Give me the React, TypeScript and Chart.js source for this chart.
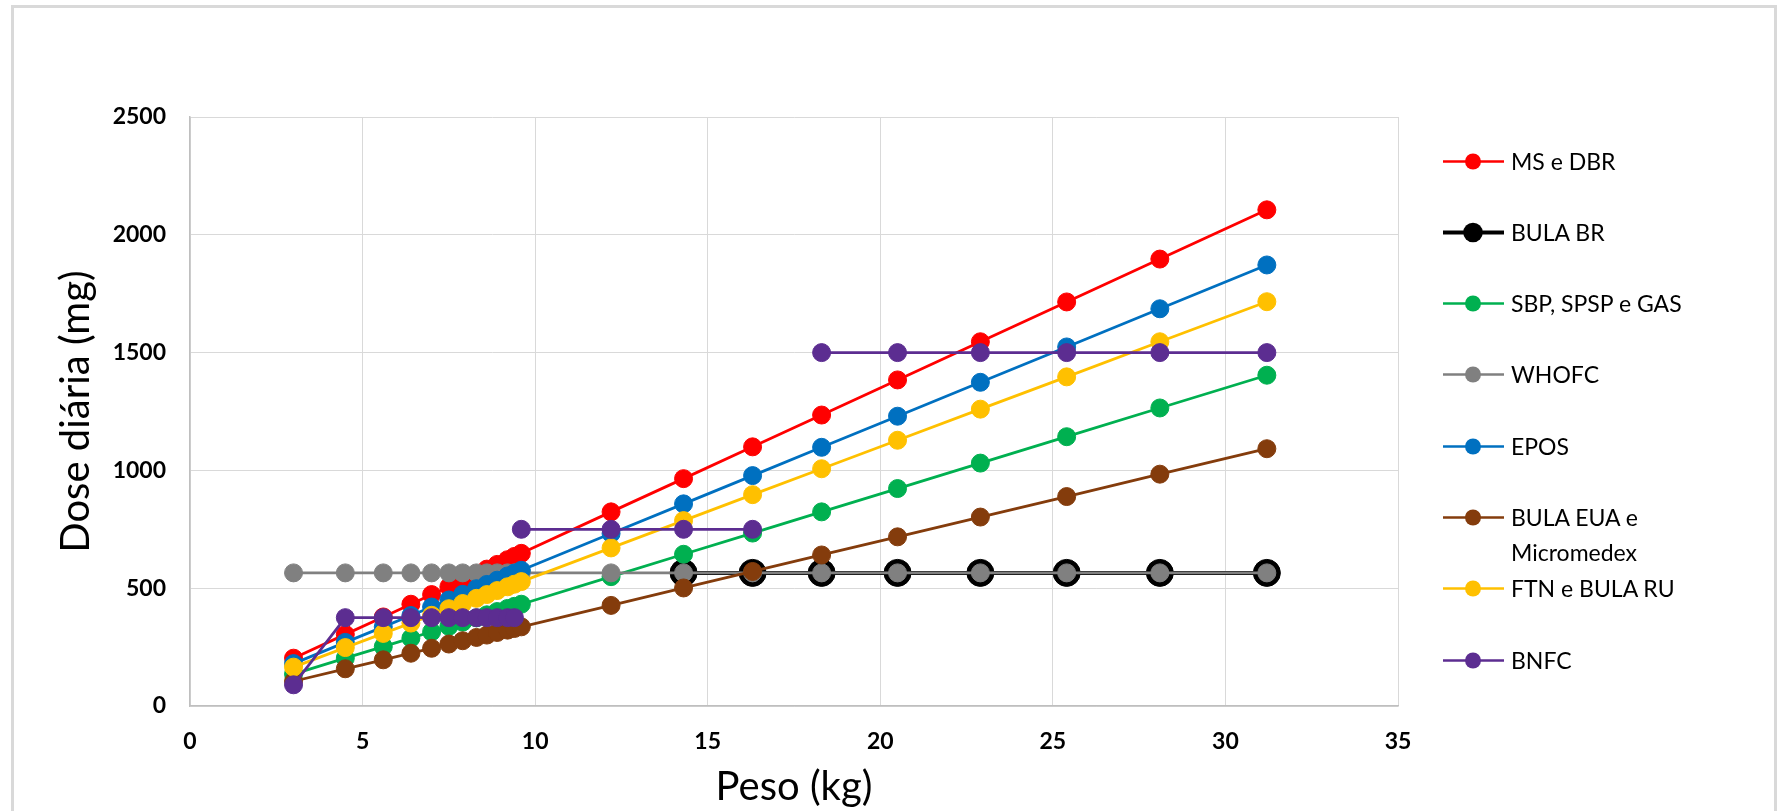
import React, { useEffect, useRef } from "react";
import { Chart, registerables } from "chart.js";

Chart.register(...registerables);

// ---------- data ----------
const WEIGHT_KG = [3, 4.5, 5.6, 6.4, 7.0, 7.5, 7.9, 8.3, 8.6, 8.9, 9.2, 9.4, 9.6, 12.2, 14.3, 16.3, 18.3, 20.5, 22.9, 25.4, 28.1, 31.2];

const MS_DBR = [203, 304, 378, 432, 473, 506, 533, 560, 581, 601, 621, 635, 648, 824, 965, 1100, 1235, 1384, 1546, 1715, 1897, 2106];
const SBP_SPSP_GAS = [135, 203, 252, 288, 315, 338, 356, 374, 387, 401, 414, 423, 432, 549, 644, 734, 824, 923, 1031, 1143, 1265, 1404];
const WHOFC = [565, 565, 565, 565, 565, 565, 565, 565, 565, 565, 565, 565, 565, 565, 565, 565, 565, 565, 565, 565, 565, 565];
const EPOS = [180, 270, 336, 384, 420, 450, 474, 498, 516, 534, 552, 564, 576, 732, 858, 978, 1098, 1230, 1374, 1524, 1686, 1872];
const BULA_EUA = [105, 158, 196, 224, 245, 263, 277, 291, 301, 312, 322, 329, 336, 427, 501, 571, 641, 718, 802, 889, 984, 1092];
const FTN_BULA_RU = [165, 248, 308, 352, 385, 413, 435, 457, 473, 490, 506, 517, 528, 671, 787, 897, 1007, 1128, 1260, 1397, 1546, 1716];

const BULA_BR_WEIGHT = [14.3, 16.3, 18.3, 20.5, 22.9, 25.4, 28.1, 31.2];
const BULA_BR = [565, 565, 565, 565, 565, 565, 565, 565];

const BNFC_WEIGHT_1 = [3, 4.5, 5.6, 6.4, 7.0, 7.5, 7.9, 8.3, 8.6, 8.9, 9.2, 9.4];
const BNFC_1 = [90, 375, 375, 375, 375, 375, 375, 375, 375, 375, 375, 375];
const BNFC_WEIGHT_2 = [9.6, 12.2, 14.3, 16.3];
const BNFC_2 = [750, 750, 750, 750];
const BNFC_WEIGHT_3 = [18.3, 20.5, 22.9, 25.4, 28.1, 31.2];
const BNFC_3 = [1500, 1500, 1500, 1500, 1500, 1500];

const LEGEND_LABELS = ["MS e DBR", "BULA BR", "SBP, SPSP e GAS", "WHOFC", "EPOS", "BULA EUA e Micromedex", "FTN e BULA RU", "BNFC"];
const COLORS = ["#FF0000", "#000000", "#00B050", "#808080", "#0070C0", "#843C0C", "#FFC000", "#5C2D91"];

const X_TITLE = "Peso (kg)";
const Y_TITLE = "Dose diária (mg)";

const FONT = "Lato, 'Open Sans', sans-serif";

export default function App() {
  const ref = useRef<HTMLCanvasElement>(null);

  useEffect(() => {
    if (!ref.current) return;
    let idx = 0;
    const mk = (label: string, xs: number[], ys: number[], color: string, extra: any = {}) => {
      const d = {
        label,
        data: xs.map((x, i) => ({ x, y: ys[i] })),
        borderColor: color,
        backgroundColor: color,
        pointBackgroundColor: color,
        pointBorderColor: color,
        pointBorderWidth: 1,
        pointRadius: 9,
        pointHoverRadius: 9,
        borderWidth: 2.8,
        tension: 0,
        fill: false,
        order: 20 - idx,
        ...extra,
      };
      idx++;
      return d;
    };

    const datasets = [
      mk(LEGEND_LABELS[0], WEIGHT_KG, MS_DBR, COLORS[0]),
      mk(LEGEND_LABELS[1], BULA_BR_WEIGHT, BULA_BR, COLORS[1], { pointRadius: 13.5, pointHoverRadius: 13.5, borderWidth: 4 }),
      mk(LEGEND_LABELS[2], WEIGHT_KG, SBP_SPSP_GAS, COLORS[2]),
      mk(LEGEND_LABELS[3], WEIGHT_KG, WHOFC, COLORS[3]),
      mk(LEGEND_LABELS[4], WEIGHT_KG, EPOS, COLORS[4]),
      mk(LEGEND_LABELS[5], WEIGHT_KG, BULA_EUA, COLORS[5]),
      mk(LEGEND_LABELS[6], WEIGHT_KG, FTN_BULA_RU, COLORS[6]),
      mk(LEGEND_LABELS[7], BNFC_WEIGHT_1, BNFC_1, COLORS[7]),
      mk(LEGEND_LABELS[7], BNFC_WEIGHT_2, BNFC_2, COLORS[7]),
      mk(LEGEND_LABELS[7], BNFC_WEIGHT_3, BNFC_3, COLORS[7]),
    ];

    const chart = new Chart(ref.current, {
      type: "line",
      data: { datasets },
      options: {
        responsive: false,
        animation: false,
        devicePixelRatio: 1,
        layout: { padding: { left: 0, top: 117, right: 384, bottom: 0 } },
        plugins: { legend: { display: false }, tooltip: { enabled: false } },
        scales: {
          x: {
            type: "linear",
            min: 0,
            max: 35,
            ticks: {
              stepSize: 5,
              padding: 22,
              color: "#000",
              font: { family: FONT, size: 23, weight: "bold" },
              callback: (v: any) => String(v),
            },
            grid: { color: "#d9d9d9", lineWidth: 1, drawTicks: false },
            border: { color: "#bfbfbf", width: 1.5 },
            title: {
              display: true,
              text: X_TITLE,
              color: "#000",
              font: { family: FONT, size: 40 },
              padding: { top: 0, bottom: 0 },
            },
            afterFit: (axis: any) => {
              axis.height = 105;
            },
          },
          y: {
            type: "linear",
            min: 0,
            max: 2500,
            ticks: {
              stepSize: 500,
              padding: 24,
              color: "#000",
              font: { family: FONT, size: 23, weight: "bold" },
              callback: (v: any) => String(v),
            },
            grid: { color: "#d9d9d9", lineWidth: 1, drawTicks: false },
            border: { color: "#bfbfbf", width: 1.5 },
            title: {
              display: true,
              text: Y_TITLE,
              color: "#000",
              font: { family: FONT, size: 40 },
              padding: { top: 52, bottom: 0 },
            },
            afterFit: (axis: any) => {
              axis.width = 190;
            },
          },
        },
      },
    } as any);

    return () => chart.destroy();
  }, []);

  const legendTop = 161;
  const legendStep = 71.3;

  return (
    <div style={{ position: "absolute", left: 0, top: 0, width: 1782, height: 811, overflow: "hidden", background: "#fff" }}>
      <canvas ref={ref} width={1782} height={811} style={{ position: "absolute", left: 0, top: 0, width: 1782, height: 811 }} />
      <div
        style={{
          position: "absolute",
          left: 11,
          top: 5,
          width: 1760,
          height: 900,
          border: "3px solid #d9d9d9",
          pointerEvents: "none",
        }}
      />
      {LEGEND_LABELS.map((label, i) => {
        const cy = legendTop + i * legendStep;
        const isBlack = i === 1;
        return (
          <div key={label} style={{ position: "absolute", left: 1440, top: cy - 17.5, height: 35 }}>
            <svg width={68} height={35} style={{ position: "absolute", left: 0, top: 0 }}>
              <line x1={3} y1={17.5} x2={64} y2={17.5} stroke={COLORS[i]} strokeWidth={isBlack ? 4 : 2.4} />
              <circle cx={33} cy={17.5} r={isBlack ? 9.8 : 8} fill={COLORS[i]} />
            </svg>
            <div
              style={{
                position: "absolute",
                left: 71,
                top: 0,
                width: 205,
                fontFamily: FONT,
                fontSize: 23,
                lineHeight: "35px",
                color: "#000",
                whiteSpace: "normal",
              }}
            >
              {label}
            </div>
          </div>
        );
      })}
    </div>
  );
}
